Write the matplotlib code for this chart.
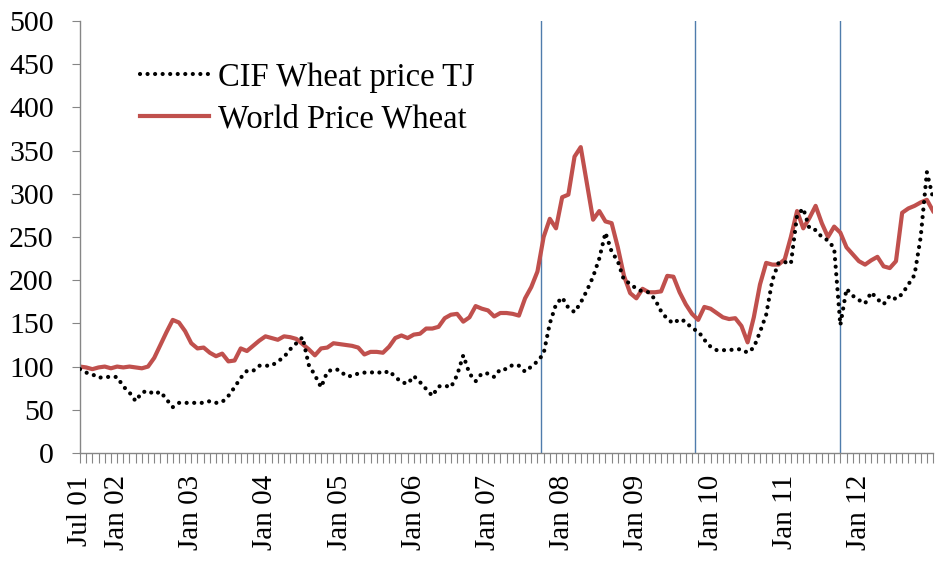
import matplotlib
matplotlib.use('Agg')
import matplotlib.pyplot as plt
from matplotlib.transforms import ScaledTranslation

# monthly series, Jul 2001 .. Jan 2013
world_price = [100, 99, 97, 99, 100, 98, 100, 99, 100, 99, 98, 100,
               110, 125, 140, 154, 151, 141, 127, 121, 122, 116, 112, 115,
               106, 107, 121, 118, 124, 130, 135, 133, 131, 135, 134, 132,
               126, 120, 113, 121, 122, 127, 126, 125, 124, 122, 114, 117,
               117, 116, 123, 133, 136, 133, 137, 138, 144, 144, 146, 156,
               160, 161, 152, 157, 170, 167, 165, 158, 162, 162, 161, 159,
               179, 192, 210, 250, 271, 260, 296, 299, 343, 354, 312, 270,
               280, 268, 266, 238, 205, 185, 179, 190, 186, 186, 187, 205,
               204, 186, 172, 161, 154, 169, 167, 162, 157, 155, 156, 147,
               128, 157, 195, 220, 218, 218, 224, 250, 280, 260, 272, 286,
               266, 250, 262, 255, 238, 230, 222, 218, 223, 227, 216, 214,
               222, 278, 283, 286, 290, 293, 280]

cif_tj = [97, 93, 91, 87, 88, 88, 88, 77, 70, 60, 70, 72,
          68, 71, 62, 53, 58, 58, 58, 58, 58, 60, 58, 59,
          66, 76, 87, 95, 95, 101, 101, 101, 106, 111, 120, 127,
          134, 102, 90, 76, 94, 97, 96, 89, 89, 92, 93, 93,
          94, 92, 95, 88, 82, 80, 89, 82, 74, 66, 77, 78,
          76, 90, 113, 92, 83, 92, 92, 88, 97, 97, 102, 101,
          94, 100, 106, 115, 150, 172, 180, 168, 163, 174, 188, 204,
          225, 255, 233, 222, 200, 196, 190, 187, 186, 178, 164, 155,
          150, 155, 152, 144, 141, 131, 123, 119, 119, 119, 120, 120,
          116, 122, 140, 160,
          200, 220, 221, 219, 275, 283, 260, 258, 250, 246, 237, 148,
          190, 182, 177, 173, 186, 178, 172, 182, 178, 184, 195, 206,
          250, 325, 295]

tick_pos = [0, 6, 18, 30, 42, 54, 66, 78, 90, 102, 114, 126]
tick_labels = ['Jul 01', 'Jan 02', 'Jan 03', 'Jan 04', 'Jan 05', 'Jan 06',
               'Jan 07', 'Jan 08', 'Jan 09', 'Jan 10', 'Jan 11', 'Jan 12']
event_months = [74.5, 99.5, 123]

plt.rcParams['font.family'] = 'Liberation Serif'

fig = plt.figure(figsize=(9.37, 5.62), dpi=100)
ax = fig.add_axes([0.0854, 0.194, 0.9104, 0.7687])

months = list(range(len(world_price)))

for m in event_months:
    ax.axvline(m, color='#4f7cac', lw=1.0, zorder=1)

ax.plot(months, cif_tj, color='black', lw=3.0, linestyle=(0, (0.01, 1.8)),
        dash_capstyle='round', label='CIF Wheat price TJ', zorder=3)
ax.plot(months, world_price, color='#c0504d', lw=3.0,
        label='World Price Wheat', zorder=2)

ax.set_xlim(0, len(world_price) - 1)
ax.set_ylim(0, 500)
ax.set_yticks(range(0, 501, 50))

ax.set_xticks(months)
labels = [''] * len(months)
for p, t in zip(tick_pos, tick_labels):
    labels[p] = t
ax.set_xticklabels(labels, rotation=90)

# shift the rotated month labels a little to the right, like the original
shift = ScaledTranslation(5 / 100, 0, fig.dpi_scale_trans)
for lab in ax.get_xticklabels():
    lab.set_transform(lab.get_transform() + shift)

for s in ['top', 'right']:
    ax.spines[s].set_visible(False)
for s in ['left', 'bottom']:
    ax.spines[s].set_color('#868686')
    ax.spines[s].set_linewidth(1.0)

ax.tick_params(axis='y', length=6, color='#868686', labelsize=21.5, pad=13)
ax.tick_params(axis='x', length=7, color='#868686', labelsize=21, pad=9)

ax.legend(loc='upper left', bbox_to_anchor=(0.055, 0.935), frameon=False,
          fontsize=23.5, handlelength=2.1, handletextpad=0.3, labelspacing=0.36,
          borderaxespad=0)

fig.savefig('out.png', dpi=100)
